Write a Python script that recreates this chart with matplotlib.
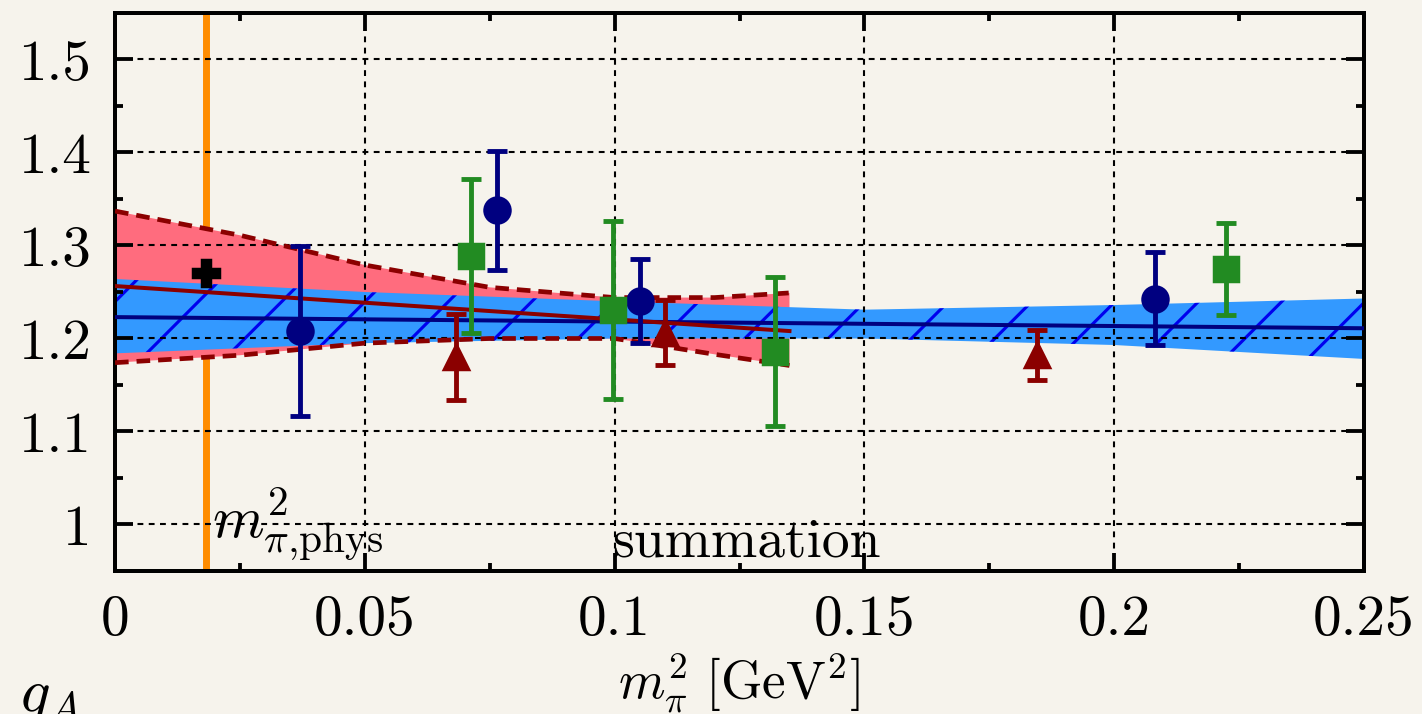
import matplotlib
matplotlib.use('Agg')
import matplotlib.pyplot as plt
from matplotlib.ticker import MultipleLocator

# lattice points (m_pi^2 [GeV^2], g_A, error)
blue_x = [0.037, 0.0765, 0.105, 0.2082]
blue_y = [1.208, 1.338, 1.240, 1.2425]
blue_err = [0.091, 0.064, 0.045, 0.050]

green_x = [0.0713, 0.0997, 0.1321, 0.2224]
green_y = [1.2886, 1.2307, 1.1856, 1.2747]
green_err = [0.083, 0.096, 0.080, 0.049]

red_x = [0.0682, 0.1101, 0.1845]
red_y = [1.180, 1.206, 1.1824]
red_err = [0.046, 0.035, 0.027]

phys_x = [0.0182]
phys_y = [1.270]

# fit lines and error bands
blue_fit_x = [0.0, 0.25]
blue_fit_y = [1.223, 1.211]
blue_band_x = [0.0, 0.05, 0.1, 0.15, 0.2, 0.25]
blue_band_hi = [1.264, 1.250, 1.240, 1.231, 1.236, 1.243]
blue_band_lo = [1.184, 1.195, 1.200, 1.200, 1.193, 1.178]

red_fit_x = [0.0, 0.135]
red_fit_y = [1.2564, 1.208]
red_band_x = [0.0, 0.025, 0.05, 0.075, 0.1, 0.12, 0.135]
red_band_hi = [1.337, 1.311, 1.279, 1.255, 1.244, 1.244, 1.249]
red_band_lo = [1.174, 1.182, 1.195, 1.200, 1.200, 1.183, 1.171]

xticks = [0, 0.05, 0.1, 0.15, 0.2, 0.25]
xtick_labels = ['0', '0.05', '0.1', '0.15', '0.2', '0.25']
yticks = [1.0, 1.1, 1.2, 1.3, 1.4, 1.5]
ytick_labels = ['1', '1.1', '1.2', '1.3', '1.4', '1.5']

BG = '#f6f3ec'
NAVY = '#000080'
GREEN = '#228b22'
DARKRED = '#8b0000'

plt.rcParams['font.family'] = 'serif'
plt.rcParams['font.serif'] = ['cmr10']
plt.rcParams['mathtext.fontset'] = 'cm'
plt.rcParams['axes.unicode_minus'] = False
plt.rcParams['hatch.linewidth'] = 0.9


def main():
    fig = plt.figure(figsize=(1422 / 250, 714 / 250), dpi=250, facecolor=BG)
    ax = fig.add_axes([0.0809, 0.2003, 0.9592 - 0.0809, 0.9818 - 0.2003])
    ax.set_facecolor(BG)

    # physical pion mass
    ax.axvline(phys_x[0], color='#ff8c00', lw=2.0, zorder=0.5)

    # red band (under blue)
    ax.fill_between(red_band_x, red_band_lo, red_band_hi, facecolor='#ff6c7e',
                    edgecolor='none', zorder=1)
    ax.plot(red_band_x, red_band_hi, color=DARKRED, lw=1.35, ls=(0, (2.9, 1.7)), zorder=3)
    ax.plot(red_band_x, red_band_lo, color=DARKRED, lw=1.35, ls=(0, (2.9, 1.7)), zorder=3)

    # blue band with hatch
    ax.fill_between(blue_band_x, blue_band_lo, blue_band_hi, facecolor='#3399ff',
                    edgecolor='none', zorder=1.1)
    ax.fill_between(blue_band_x, blue_band_lo, blue_band_hi, facecolor='none',
                    edgecolor='#0000ee', hatch='/', linewidth=0, zorder=1.2)

    ax.plot(blue_fit_x, blue_fit_y, color=NAVY, lw=1.15, zorder=3)
    ax.plot(red_fit_x, red_fit_y, color=DARKRED, lw=1.15, zorder=3)

    eb = dict(ls='none', elinewidth=1.4, capsize=2.9, capthick=1.4, zorder=4)
    ax.errorbar(blue_x, blue_y, yerr=blue_err, fmt='o', color=NAVY, ms=7.2, **eb)
    ax.errorbar(green_x, green_y, yerr=green_err, fmt='s', color=GREEN, ms=6.8, **eb)
    ax.errorbar(red_x, red_y, yerr=red_err, fmt='^', color=DARKRED, ms=7.0, **eb)
    ax.plot(phys_x, phys_y, 'P', color='black', ms=7.5, mec='black', zorder=5)

    ax.set_xlim(0, 0.25)
    ax.set_ylim(0.95, 1.55)
    ax.set_xticks(xticks)
    ax.set_xticklabels(xtick_labels)
    ax.set_yticks(yticks)
    ax.set_yticklabels(ytick_labels)
    ax.xaxis.set_minor_locator(MultipleLocator(0.025))
    ax.yaxis.set_minor_locator(MultipleLocator(0.05))
    ax.tick_params(which='both', direction='in', top=True, right=True, width=1.1,
                   labelsize=16.5, pad=7)
    ax.tick_params(which='major', length=5.2)
    ax.tick_params(which='minor', length=2.4)
    for s in ax.spines.values():
        s.set_linewidth(1.15)

    ax.set_axisbelow(False)
    ax.grid(True, which='major', color='black', lw=0.6, ls=(0, (2.8, 2.6)))

    ax.text(0.0195, 0.987, r'$m^2_{\pi{,}\mathrm{phys}}$', fontsize=17, va='baseline')
    ax.text(0.0995, 0.9656, 'summation', fontsize=16, va='baseline')

    ax.set_xlabel(r'$m_\pi^2\ [\mathrm{GeV}^2]$', fontsize=15.3, labelpad=1.5)
    fig.text(18 / 1422, 3 / 714, r'$g_A$', fontsize=18, va='baseline', ha='left')

    fig.savefig('out.png', dpi=250, facecolor=BG)


if __name__ == '__main__':
    main()
